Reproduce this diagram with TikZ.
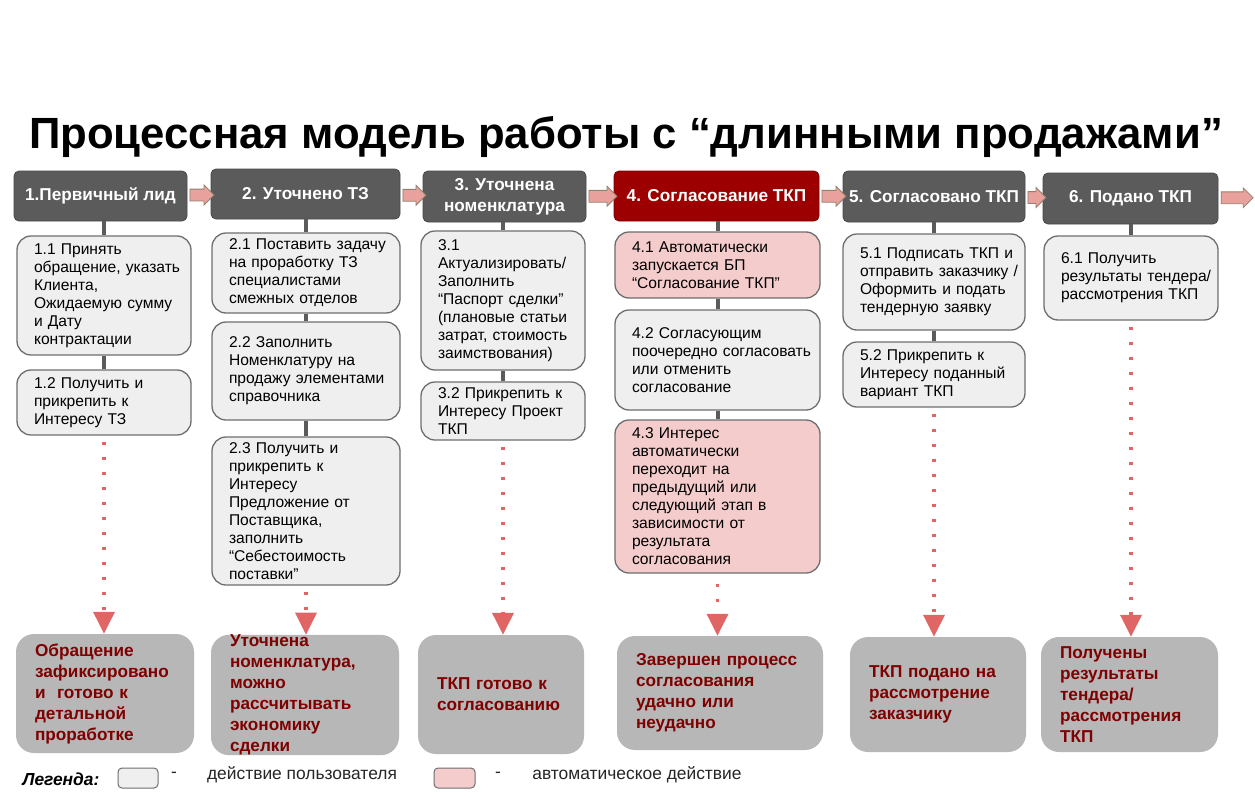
\documentclass[tikz,border=0pt]{standalone}
\usepackage{fontspec}
\setmainfont{Liberation Sans}
\usetikzlibrary{shapes.arrows,arrows.meta,calc,positioning}

\definecolor{stagegray}{HTML}{5B5B5B}
\definecolor{stagered}{HTML}{9C0000}
\definecolor{usergray}{HTML}{EFEFEF}
\definecolor{boxline}{HTML}{6E6E6E}
\definecolor{autopink}{HTML}{F4CCCC}
\definecolor{resultgray}{HTML}{B7B7B7}
\definecolor{resultred}{HTML}{7F0000}
\definecolor{dotred}{HTML}{E06666}
\definecolor{flowpink}{HTML}{E8A19C}

\tikzset{
  stagebox/.style={rectangle, rounded corners=5pt, fill=stagegray, draw=stagegray!80!black,
    line width=0.8pt, text=white, align=center, inner sep=0pt,
    font=\bfseries\fontsize{17.2}{21}\selectfont},
  wh/.style 2 args={minimum width=#1, minimum height=#2},
  userbox/.style={rectangle, rounded corners=14pt, fill=usergray, draw=boxline, line width=1.3pt,
    align=left, inner xsep=17pt, inner ysep=0pt, font=\fontsize{15.6}{18}\selectfont},
  autobox/.style={userbox, fill=autopink},
  resultbox/.style={rectangle, rounded corners=18pt, fill=resultgray, text=resultred,
    align=left, inner xsep=19pt, inner ysep=0pt, font=\bfseries\fontsize{17.2}{21}\selectfont},
  c1/.style={text width=140pt}, c2/.style={text width=154pt}, c3/.style={text width=130pt},
  c4/.style={text width=171pt}, c5/.style={text width=148pt}, c6/.style={text width=140pt},
  stem/.style={draw=stagegray, line width=4pt},
  dotflow/.style={draw=dotred, line width=3.5pt, dash pattern=on 3pt off 12pt, shorten <=6pt,
    -{Triangle[width=21pt,length=22pt]}},
  flowarrow/.style={single arrow, single arrow head extend=4pt, fill=flowpink,
    draw=gray!70!brown, line width=0.8pt, inner sep=0pt},
  legtext/.style={font=\fontsize{17.4}{20}\selectfont, text=black!85}
}

\begin{document}
\begin{tikzpicture}[x=1pt,y=-1pt]
  \useasboundingbox[fill=white] (0,0) rectangle (1255,800);

  \node[anchor=base, font=\bfseries\fontsize{43.7}{50}\selectfont] (title) at (626,148)
    {Процессная модель работы с “длинными продажами”};

  % stages
  \node[stagebox, wh={173pt}{50pt}] (h1) at (100.5,196) {1.Первичный лид};
  \node[stagebox, wh={189pt}{50pt}] (h2) at (305.5,194) {2. Уточнено ТЗ};
  \node[stagebox, wh={163pt}{51pt}] (h3) at (504.5,196.5) {3. Уточнена\\номенклатура};
  \node[stagebox, wh={205pt}{50pt}, fill=stagered, draw=stagered!80!black] (h4) at (716.5,196) {4. Согласование ТКП};
  \node[stagebox, wh={182pt}{51pt}] (h5) at (934,196.5) {5. Согласовано ТКП};
  \node[stagebox, wh={175pt}{51pt}] (h6) at (1130.5,198.5) {6. Подано ТКП};
  \coordinate (tail) at (1250,197);

  \node[flowarrow, minimum height=24pt] (a12) at ($(h1.east)!.5!(h2.west)$) {\rule{0pt}{11pt}};
  \node[flowarrow, minimum height=23pt] (a23) at ($(h2.east)!.5!(h3.west)$) {\rule{0pt}{11pt}};
  \node[flowarrow, minimum height=28pt] (a34) at ($(h3.east)!.5!(h4.west)$) {\rule{0pt}{11pt}};
  \node[flowarrow, minimum height=24pt] (a45) at ($(h4.east)!.5!(h5.west)$) {\rule{0pt}{11pt}};
  \node[flowarrow, minimum height=18pt] (a56) at ($(h5.east)!.5!(h6.west)$) {\rule{0pt}{11pt}};
  \node[flowarrow, minimum height=32pt] (a6x) at ($(h6.east)!.5!(tail)$) {\rule{0pt}{11pt}};

  % actions
  \node[userbox, c1, minimum height=119pt] (s11) at (104,295.5)
    {1.1 Принять\\обращение,~указать\\Клиента,\\Ожидаемую~сумму\\и Дату\\контрактации};
  \node[userbox, c1, minimum height=65pt] (s12) at (104,402.5)
    {1.2 Получить и\\прикрепить к\\Интересу ТЗ};
  \node[userbox, c2, minimum height=80pt] (s21) at (306,273)
    {2.1~Поставить~задачу\\на проработку ТЗ\\специалистами\\смежных отделов};
  \node[userbox, c2, minimum height=98pt] (s22) at (306,371)
    {2.2 Заполнить\\Номенклатуру на\\продажу~элементами\\справочника};
  \node[userbox, c2, minimum height=148pt] (s23) at (306,511)
    {2.3 Получить и\\прикрепить к\\Интересу\\Предложение от\\Поставщика,\\заполнить\\“Себестоимость\\поставки”};
  \node[userbox, c3, minimum height=139pt] (s31) at (503,300.5)
    {3.1\\Актуализировать/\\Заполнить\\“Паспорт~сделки”\\(плановые~статьи\\затрат,~стоимость\\заимствования)};
  \node[userbox, c3, minimum height=58pt] (s32) at (503,411)
    {3.2~Прикрепить~к\\Интересу~Проект\\ТКП};
  \node[autobox, c4, minimum height=66pt] (s41) at (717.5,265)
    {4.1 Автоматически\\запускается БП\\“Согласование~ТКП”};
  \node[userbox, c4, minimum height=100pt] (s42) at (717.5,360)
    {4.2 Согласующим\\поочередно~согласовать\\или отменить\\согласование};
  \node[autobox, c4, minimum height=153pt] (s43) at (717.5,496.5)
    {4.3 Интерес\\автоматически\\переходит на\\предыдущий или\\следующий этап в\\зависимости от\\результата\\согласования};
  \node[userbox, c5, minimum height=96pt] (s51) at (934,282)
    {5.1~Подписать~ТКП~и\\отправить~заказчику~/\\Оформить~и~подать\\тендерную заявку};
  \node[userbox, c5, minimum height=65pt] (s52) at (934,374.5)
    {5.2 Прикрепить к\\Интересу~поданный\\вариант ТКП};
  \node[userbox, c6, minimum height=84pt] (s61) at (1131,278)
    {6.1 Получить\\результаты~тендера/\\рассмотрения~ТКП};

  % results
  \node[resultbox, text width=140pt, minimum height=119pt] (r1) at (105,693.5)
    {Обращение\\зафиксировано\\и~ готово к\\детальной\\проработке};
  \node[resultbox, text width=150pt, minimum height=120pt] (r2) at (305,695)
    {Уточнена\\номенклатура,\\можно\\рассчитывать\\экономику\\сделки};
  \node[resultbox, text width=128pt, minimum height=119pt] (r3) at (501,694.5)
    {ТКП готово к\\согласованию};
  \node[resultbox, text width=168pt, minimum height=114pt] (r4) at (720,693)
    {Завершен процесс\\согласования\\удачно или\\неудачно};
  \node[resultbox, text width=138pt, minimum height=115pt] (r5) at (938,694.5)
    {ТКП подано на\\рассмотрение\\заказчику};
  \node[resultbox, text width=139pt, minimum height=115pt] (r6) at (1129.5,694.5)
    {Получены\\результаты\\тендера/\\рассмотрения\\ТКП};

  % stems
  \draw[stem] (s11.north |- h1.south) -- (s11.north);
  \draw[stem] (s12.north |- s11.south) -- (s12.north);
  \draw[stem] (s21.north |- h2.south) -- (s21.north);
  \draw[stem] (s22.north |- s21.south) -- (s22.north);
  \draw[stem] (s23.north |- s22.south) -- (s23.north);
  \draw[stem] (s31.north |- h3.south) -- (s31.north);
  \draw[stem] (s32.north |- s31.south) -- (s32.north);
  \draw[stem] (s41.north |- h4.south) -- (s41.north);
  \draw[stem] (s42.north |- s41.south) -- (s42.north);
  \draw[stem] (s43.north |- s42.south) -- (s43.north);
  \draw[stem] (s51.north |- h5.south) -- (s51.north);
  \draw[stem] (s52.north |- s51.south) -- (s52.north);
  \draw[stem] (s61.north |- h6.south) -- (s61.north);

  % dotted flows to results
  \draw[dotflow] (s12.south) -- (s12.south |- r1.north);
  \draw[dotflow] (s23.south) -- (s23.south |- r2.north);
  \draw[dotflow] (s32.south) -- (s32.south |- r3.north);
  \draw[dotflow, shorten <=10pt] (s43.south) -- (s43.south |- r4.north);
  \draw[dotflow] (s52.south) -- (s52.south |- r5.north);
  \draw[dotflow] (s61.south) -- (s61.south |- r6.north);

  % legend
  \node[font=\bfseries\itshape\fontsize{17.4}{20}\selectfont] (legend) at (61,779) {Легенда:};
  \node[rectangle, rounded corners=4pt, fill=usergray, draw=boxline, line width=1pt,
    minimum width=40pt, minimum height=20pt] (leguser) at (138,778) {};
  \node[legtext] (dash1) at (174,775) {-};
  \node[legtext] (txtuser) at (302,775) {действие пользователя};
  \node[rectangle, rounded corners=4pt, fill=autopink, draw=boxline, line width=1pt,
    minimum width=41pt, minimum height=20pt] (legauto) at (454.5,778) {};
  \node[legtext] (dash2) at (498,775) {-};
  \node[legtext] (txtauto) at (637,775) {автоматическое действие};
\end{tikzpicture}
\end{document}
